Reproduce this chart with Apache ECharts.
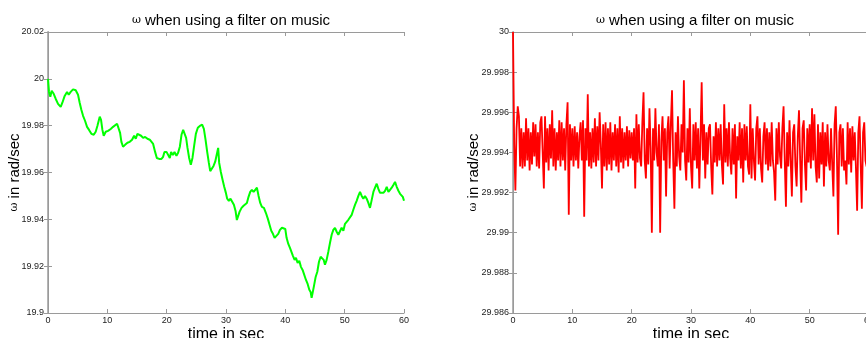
<!DOCTYPE html>
<html>
<head>
<meta charset="utf-8">
<script src="https://cdn.jsdelivr.net/npm/echarts@6/dist/echarts.min.js"></script>
<style>
  html, body { margin: 0; padding: 0; background: #fff; }
  #chart { width: 866px; height: 338px; }
</style>
</head>
<body>
<div id="chart"></div>
<script>
// Tick ranges of the two panels
const xTicks = { min: 0, max: 60, interval: 10 };
const leftTicks = { min: 19.9, max: 20.02, interval: 0.02 };
const rightTicks = { min: 29.986, max: 30, interval: 0.002 };

// Left panel: estimated frequency (rad/sec) against time (sec)
const greenTime = [
  0, 0.17, 0.39, 0.62, 0.96, 1.29, 1.69, 2.14, 2.42, 2.81, 3.21, 3.49, 3.82, 4.22, 4.67, 5.06, 5.34, 5.62, 5.91,
  6.24, 6.58, 6.92, 7.31, 7.71, 8.04, 8.32, 8.72, 8.94, 9.17, 9.39, 9.73, 10.12, 10.57, 10.97, 11.3, 11.64, 11.92,
  12.15, 12.37, 12.65, 12.99, 13.39, 13.78, 14.17, 14.51, 14.79, 15.07, 15.35, 15.69, 16.03, 16.37, 16.76, 17.15,
  17.44, 17.72, 18.05, 18.34, 18.73, 19.12, 19.4, 19.63, 19.97, 20.3, 20.53, 20.75, 21.04, 21.32, 21.65, 21.93,
  22.22, 22.5, 22.78, 23.06, 23.28, 23.51, 23.79, 24.07, 24.35, 24.63, 24.92, 25.25, 25.59, 25.98, 26.27, 26.55,
  26.83, 27.11, 27.34, 27.62, 27.9, 28.18, 28.46, 28.68, 28.85, 29.13, 29.42, 29.7, 29.98, 30.2, 30.48, 30.76,
  31.05, 31.33, 31.61, 31.83, 32.06, 32.28, 32.62, 32.96, 33.24, 33.52, 33.8, 34.08, 34.36, 34.65, 34.93, 35.21,
  35.49, 35.77, 36.05, 36.39, 36.73, 37.06, 37.35, 37.63, 37.91, 38.19, 38.47, 38.81, 39.09, 39.43, 39.71, 39.99,
  40.21, 40.5, 40.78, 41.06, 41.28, 41.56, 41.79, 42.07, 42.35, 42.63, 42.91, 43.2, 43.48, 43.76, 44.04, 44.26,
  44.43, 44.6, 44.83, 45.11, 45.39, 45.67, 45.95, 46.23, 46.46, 46.68, 46.96, 47.24, 47.53, 47.81, 48.09, 48.37,
  48.65, 48.93, 49.21, 49.49, 49.78, 50.06, 50.34, 50.62, 50.9, 51.18, 51.46, 51.74, 52.02, 52.31, 52.59, 52.87,
  53.15, 53.43, 53.71, 53.99, 54.27, 54.56, 54.84, 55.12, 55.4, 55.68, 55.96, 56.24, 56.52, 56.81, 57.09, 57.37,
  57.65, 57.93, 58.21, 58.49, 58.77, 59.06, 59.34, 59.62, 59.8, 60
];
const greenOmega = [
  20.0, 19.9944, 19.9923, 19.9949, 19.9936, 19.9915, 19.9893, 19.988, 19.9898, 19.9927, 19.9944, 19.9932, 19.9944,
  19.9955, 19.9951, 19.9932, 19.9898, 19.9868, 19.9842,
  19.9821, 19.9795, 19.9782, 19.9765, 19.9761, 19.9774, 19.9799, 19.9838, 19.9825, 19.9782, 19.9757, 19.9774,
  19.9778, 19.9786, 19.9795, 19.9799, 19.9808, 19.9808,
  19.9769, 19.9731, 19.971, 19.9718, 19.9727, 19.9731, 19.974, 19.9757, 19.9744, 19.9765, 19.9769, 19.9757,
  19.9748, 19.9752, 19.9744, 19.974,
  19.9748, 19.9722, 19.9688, 19.9662, 19.9658, 19.9658, 19.9667, 19.9688, 19.9688, 19.968, 19.9662, 19.9688,
  19.9675, 19.9688, 19.9671, 19.9684,
  19.971, 19.9761, 19.9782, 19.9782, 19.9748, 19.9705, 19.9662, 19.9633, 19.9662, 19.9714, 19.9765, 19.9791,
  19.9799, 19.9804, 19.9786, 19.974,
  19.9688, 19.9641, 19.9606, 19.9602, 19.9628, 19.9646, 19.9654, 19.9705, 19.9641, 19.9602, 19.9569, 19.9539,
  19.9513, 19.9488, 19.9479, 19.9488,
  19.9483, 19.9462, 19.9436, 19.9397, 19.9389, 19.9432, 19.9449, 19.9458, 19.9453, 19.947, 19.9496, 19.9517,
  19.9526, 19.9517, 19.9526, 19.9535,
  19.95, 19.947, 19.9453, 19.9449, 19.9427, 19.9402, 19.9376, 19.9351, 19.9338, 19.9321, 19.9325, 19.9338,
  19.9355, 19.9364, 19.9368, 19.9359,
  19.9321, 19.9295, 19.9278, 19.927, 19.9244, 19.9227, 19.9236, 19.9214, 19.9223, 19.9197, 19.9184, 19.9176,
  19.9141, 19.9124, 19.9099, 19.909,
  19.9065, 19.9086, 19.9116, 19.9154, 19.9176, 19.9219, 19.924, 19.9244, 19.9227, 19.9206, 19.9227, 19.9261,
  19.93, 19.9334, 19.9355, 19.9364,
  19.9347, 19.9334, 19.9342, 19.9364, 19.9351, 19.9381, 19.9389, 19.9398, 19.9406, 19.9419, 19.9441, 19.9462,
  19.9479, 19.95, 19.9517, 19.95,
  19.9488, 19.95, 19.9488, 19.947, 19.9449, 19.9483, 19.9517, 19.9535, 19.9552, 19.953, 19.9513, 19.9517,
  19.9513, 19.9522, 19.9539, 19.9517,
  19.9526, 19.9535, 19.9547, 19.956, 19.9539, 19.9522, 19.9509, 19.9517, 19.9496, 19.9479
];

// Right panel: samples every 0.2 sec, one row per two seconds
const redStep = 0.2;
const redOmega = [
  30.0, 29.9944, 29.9921, 29.9952, 29.9963, 29.9958, 29.9933, 29.9952, 29.9932, 29.9950,
  29.9933, 29.9957, 29.9936, 29.9952, 29.9931, 29.9950, 29.9934, 29.9955, 29.9938, 29.9954,
  29.9933, 29.9950, 29.9932, 29.9955, 29.9958, 29.9940, 29.9922, 29.9958, 29.9935, 29.9952,
  29.9931, 29.9954, 29.9937, 29.9961, 29.9933, 29.9952, 29.9931, 29.9950, 29.9936, 29.9956,
  29.9933, 29.9955, 29.9936, 29.9952, 29.9931, 29.9954, 29.9965, 29.9909, 29.9954, 29.9936,
  29.9952, 29.9933, 29.9953, 29.9936, 29.9950, 29.9932, 29.9948, 29.9955, 29.9936, 29.9956,
  29.9908, 29.9952, 29.9936, 29.9969, 29.9933, 29.9950, 29.9932, 29.9952, 29.9935, 29.9957,
  29.9933, 29.9953, 29.9936, 29.9960, 29.9944, 29.9922, 29.9954, 29.9933, 29.9955, 29.9931,
  29.9952, 29.9934, 29.9955, 29.9931, 29.9950, 29.9936, 29.9954, 29.9933, 29.9952, 29.9930,
  29.9958, 29.9935, 29.9952, 29.9932, 29.9950, 29.9936, 29.9953, 29.9933, 29.9951, 29.9937,
  29.9950, 29.9936, 29.9952, 29.9922, 29.9959, 29.9935, 29.9954, 29.9937, 29.9933, 29.9955,
  29.9970, 29.9936, 29.9927, 29.9952, 29.9934, 29.9962, 29.9942, 29.9900, 29.9952, 29.9936,
  29.9962, 29.9940, 29.9933, 29.9954, 29.9900, 29.9946, 29.9958, 29.9936, 29.9952, 29.9918,
  29.9950, 29.9958, 29.9932, 29.9954, 29.9971, 29.9936, 29.9912, 29.9950, 29.9933, 29.9958,
  29.9938, 29.9931, 29.9954, 29.9940, 29.9976, 29.9936, 29.9926, 29.9952, 29.9935, 29.9962,
  29.9933, 29.9922, 29.9954, 29.9936, 29.9955, 29.9932, 29.9952, 29.9922, 29.9948, 29.9975,
  29.9936, 29.9954, 29.9927, 29.9950, 29.9934, 29.9952, 29.9954, 29.9933, 29.9919, 29.9948,
  29.9935, 29.9955, 29.9933, 29.9952, 29.9936, 29.9954, 29.9934, 29.9924, 29.9964, 29.9935,
  29.9952, 29.9933, 29.9955, 29.9937, 29.9929, 29.9952, 29.9934, 29.9954, 29.9917, 29.9948,
  29.9936, 29.9955, 29.9932, 29.9952, 29.9925, 29.9954, 29.9936, 29.9953, 29.9933, 29.9929,
  29.9964, 29.9927, 29.9952, 29.9936, 29.9926, 29.9952, 29.9958, 29.9934, 29.9952, 29.9932,
  29.9925, 29.9948, 29.9955, 29.9934, 29.9952, 29.9931, 29.9950, 29.9933, 29.9955, 29.9936,
  29.9930, 29.9916, 29.9952, 29.9934, 29.9955, 29.9938, 29.9932, 29.9952, 29.9963, 29.9936,
  29.9913, 29.9950, 29.9933, 29.9956, 29.9936, 29.9918, 29.9950, 29.9954, 29.9933, 29.9923,
  29.9948, 29.9961, 29.9936, 29.9915, 29.9952, 29.9956, 29.9934, 29.9921, 29.9952, 29.9935,
  29.9954, 29.9932, 29.9962, 29.9936, 29.9959, 29.9933, 29.9925, 29.9954, 29.9927, 29.9950,
  29.9934, 29.9955, 29.9923, 29.9950, 29.9933, 29.9954, 29.9936, 29.9931, 29.9952, 29.9934,
  29.9918, 29.9954, 29.9963, 29.9937, 29.9899, 29.9950, 29.9954, 29.9933, 29.9952, 29.9931,
  29.9936, 29.9924, 29.9955, 29.9934, 29.9952, 29.9930, 29.9953, 29.9936, 29.9950, 29.9932,
  29.9911, 29.9950, 29.9958, 29.9934, 29.9912, 29.9950, 29.9955, 29.9936, 29.9933, 29.9952,
  29.9944
];

const titleText = '{w|ω} when using a filter on music';
const yName = '{w|ω} in rad/sec';
const xName = 'time in sec';

const FONT = '"Liberation Sans", Arial, sans-serif';
const AXIS_GRAY = '#9a9a9a';
const LABEL_COLOR = '#222';

const greenData = greenTime.map((t, i) => [t, greenOmega[i]]);
const redData = redOmega.map((v, i) => [+(i * redStep).toFixed(1), v]);

function xAxes(gridIndex) {
  return [
    {
      gridIndex, type: 'value', position: 'bottom', ...xTicks,
      axisLine: { show: true, lineStyle: { color: AXIS_GRAY, width: 1 } },
      axisTick: { show: true, inside: true, length: 4, lineStyle: { color: AXIS_GRAY } },
      axisLabel: { color: LABEL_COLOR, fontSize: 9, fontFamily: FONT, margin: 3 },
      splitLine: { show: false },
      name: xName, nameLocation: 'middle', nameGap: 14, nameMoveOverlap: false,
      nameTextStyle: { fontSize: 16, color: '#000', fontFamily: FONT, verticalAlign: 'top' }
    },
    {
      gridIndex, type: 'value', position: 'top', ...xTicks,
      axisLine: { show: true, lineStyle: { color: AXIS_GRAY, width: 1 } },
      axisTick: { show: true, inside: true, length: 4, lineStyle: { color: AXIS_GRAY } },
      axisLabel: { show: false },
      splitLine: { show: false }
    }
  ];
}

function yAxes(gridIndex, ticks, nameGap) {
  return [
    {
      gridIndex, type: 'value', position: 'left', ...ticks,
      axisLine: { show: true, lineStyle: { color: '#b4b4b4', width: 2 } },
      axisTick: { show: true, inside: true, length: 4, lineStyle: { color: AXIS_GRAY } },
      axisLabel: { color: LABEL_COLOR, fontSize: 9, fontFamily: FONT, margin: 4 },
      splitLine: { show: false },
      name: yName, nameLocation: 'middle', nameGap, nameMoveOverlap: false,
      nameTextStyle: {
        fontSize: 15, color: '#000', fontFamily: FONT,
        rich: { w: { fontSize: 11, fontFamily: '"DejaVu Serif", serif', color: '#000' } }
      }
    },
    {
      gridIndex, type: 'value', position: 'right', ...ticks,
      axisLine: { show: true, lineStyle: { color: AXIS_GRAY, width: 1 } },
      axisTick: { show: true, inside: true, length: 4, lineStyle: { color: AXIS_GRAY } },
      axisLabel: { show: false },
      splitLine: { show: false }
    }
  ];
}

function panelTitle(centerX) {
  return {
    text: titleText, left: centerX, top: 8, textAlign: 'center',
    textStyle: {
      fontSize: 15, fontWeight: 'normal', color: '#000', fontFamily: FONT,
      rich: { w: { fontSize: 11, fontFamily: '"DejaVu Serif", serif', color: '#000' } }
    }
  };
}

const chart = echarts.init(document.getElementById('chart'), null, { renderer: 'canvas' });
chart.setOption({
  animation: false,
  backgroundColor: '#fff',
  title: [panelTitle(226), panelTitle(690)],
  grid: [
    { left: 48, top: 32, width: 356, height: 281, containLabel: false, outerBoundsMode: 'none' },
    { left: 513, top: 32, width: 356, height: 281, containLabel: false, outerBoundsMode: 'none' }
  ],
  xAxis: [...xAxes(0), ...xAxes(1)],
  yAxis: [...yAxes(0, leftTicks, 26), ...yAxes(1, rightTicks, 32)],
  series: [
    {
      type: 'line', xAxisIndex: 0, yAxisIndex: 0, data: greenData,
      showSymbol: false, lineStyle: { color: '#00ff00', width: 2 }, itemStyle: { color: '#00ff00' }
    },
    {
      type: 'line', xAxisIndex: 2, yAxisIndex: 2, data: redData,
      showSymbol: false, lineStyle: { color: '#ff0000', width: 1.8 }, itemStyle: { color: '#ff0000' }
    }
  ]
});
</script>
</body>
</html>
